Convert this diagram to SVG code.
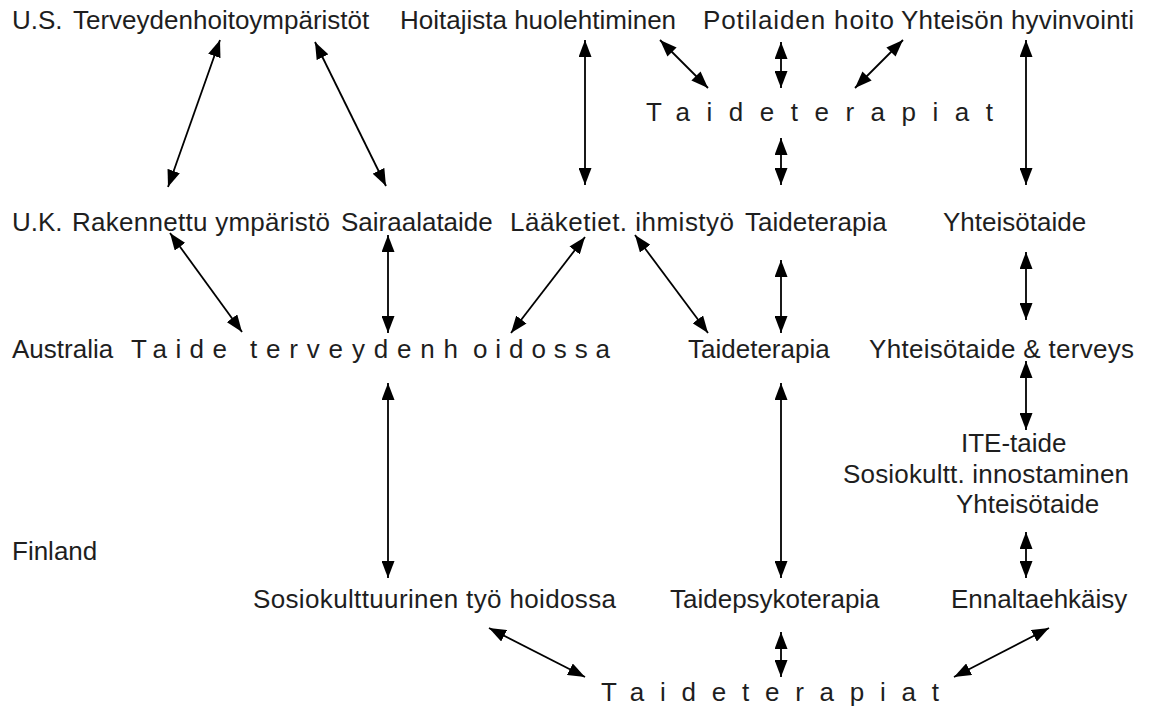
<svg xmlns="http://www.w3.org/2000/svg" width="1149" height="710" viewBox="0 0 1149 710">
<style>
text{font-family:"Liberation Sans",Arial,sans-serif;font-size:26px;fill:#1e1e1e}
.c line{stroke:#000;stroke-width:1.8;marker-start:url(#ah);marker-end:url(#ah)}
</style>
<defs>
<marker id="ah" viewBox="0 0 17 13" refX="17" refY="6.5" markerWidth="17" markerHeight="13" markerUnits="userSpaceOnUse" orient="auto-start-reverse"><path d="M0,0 L17,6.5 L0,13 z" fill="#000"/></marker>
</defs>
<rect width="1149" height="710" fill="#fff"/>
<g id="labels">
<text x="12" y="29">U.S.</text>
<text x="12" y="231">U.K.</text>
<text x="12" y="358">Australia</text>
<text x="12" y="560">Finland</text>
</g>
<g id="us-terveydenhoito"><text x="73" y="29">Terveydenhoitoympäristöt</text></g>
<g id="us-hoitajista"><text x="400" y="29">Hoitajista huolehtiminen</text></g>
<g id="us-potilaiden"><text x="703" y="29" textLength="191" lengthAdjust="spacing">Potilaiden hoito</text></g>
<g id="us-yhteison"><text x="901" y="29" textLength="233" lengthAdjust="spacing">Yhteisön hyvinvointi</text></g>
<g id="us-taideterapiat"><text x="646" y="121" textLength="347" lengthAdjust="spacing">Taideterapiat</text></g>
<g id="uk-rakennettu"><text x="72" y="231" textLength="258" lengthAdjust="spacing">Rakennettu ympäristö</text></g>
<g id="uk-sairaala"><text x="341" y="231">Sairaalataide</text></g>
<g id="uk-laaketiet"><text x="510" y="231" textLength="224" lengthAdjust="spacing">Lääketiet. ihmistyö</text></g>
<g id="uk-taideterapia"><text x="745" y="231">Taideterapia</text></g>
<g id="uk-yhteisotaide"><text x="943" y="231">Yhteisötaide</text></g>
<g id="au-taide">
<text x="131" y="358" textLength="96" lengthAdjust="spacing">Taide</text>
<text x="250" y="358" textLength="208" lengthAdjust="spacing">terveydenh</text>
<text x="473" y="358" textLength="137" lengthAdjust="spacing">oidossa</text>
</g>
<g id="au-taideterapia"><text x="688" y="358">Taideterapia</text></g>
<g id="au-yhteisotaide"><text x="869" y="358" textLength="265" lengthAdjust="spacing">Yhteisötaide &amp; terveys</text></g>
<g id="fi-ite">
<text x="961" y="452">ITE-taide</text>
<text x="843" y="483" textLength="286" lengthAdjust="spacing">Sosiokultt. innostaminen</text>
<text x="956" y="513">Yhteisötaide</text>
</g>
<g id="fi-sosiokult"><text x="253" y="608" textLength="363" lengthAdjust="spacing">Sosiokulttuurinen  työ hoidossa</text></g>
<g id="fi-taidepsyko"><text x="670" y="608">Taidepsykoterapia</text></g>
<g id="fi-ennalta"><text x="951" y="608">Ennaltaehkäisy</text></g>
<g id="fi-taideterapiat"><text x="601" y="701" textLength="338" lengthAdjust="spacing">Taideterapiat</text></g>
<g id="connectors" class="c">
<line x1="220" y1="40" x2="168" y2="187"/>
<line x1="315" y1="42" x2="386" y2="186"/>
<line x1="585" y1="40" x2="585" y2="185"/>
<line x1="660" y1="40" x2="708" y2="88"/>
<line x1="781" y1="42" x2="781" y2="88"/>
<line x1="903" y1="40" x2="855" y2="88"/>
<line x1="1026" y1="40" x2="1026" y2="185"/>
<line x1="781" y1="138" x2="781" y2="185"/>
<line x1="170" y1="233" x2="242" y2="332"/>
<line x1="388" y1="235" x2="388" y2="333"/>
<line x1="585" y1="237" x2="511" y2="333"/>
<line x1="635" y1="235" x2="708" y2="333"/>
<line x1="781" y1="260" x2="781" y2="333"/>
<line x1="1026" y1="252" x2="1026" y2="320"/>
<line x1="1026" y1="361" x2="1026" y2="430"/>
<line x1="388" y1="383" x2="388" y2="578"/>
<line x1="781" y1="383" x2="781" y2="578"/>
<line x1="1026" y1="532" x2="1026" y2="578"/>
<line x1="489" y1="628" x2="585" y2="677"/>
<line x1="781" y1="632" x2="781" y2="677"/>
<line x1="1049" y1="628" x2="954" y2="677"/>
</g>
</svg>
